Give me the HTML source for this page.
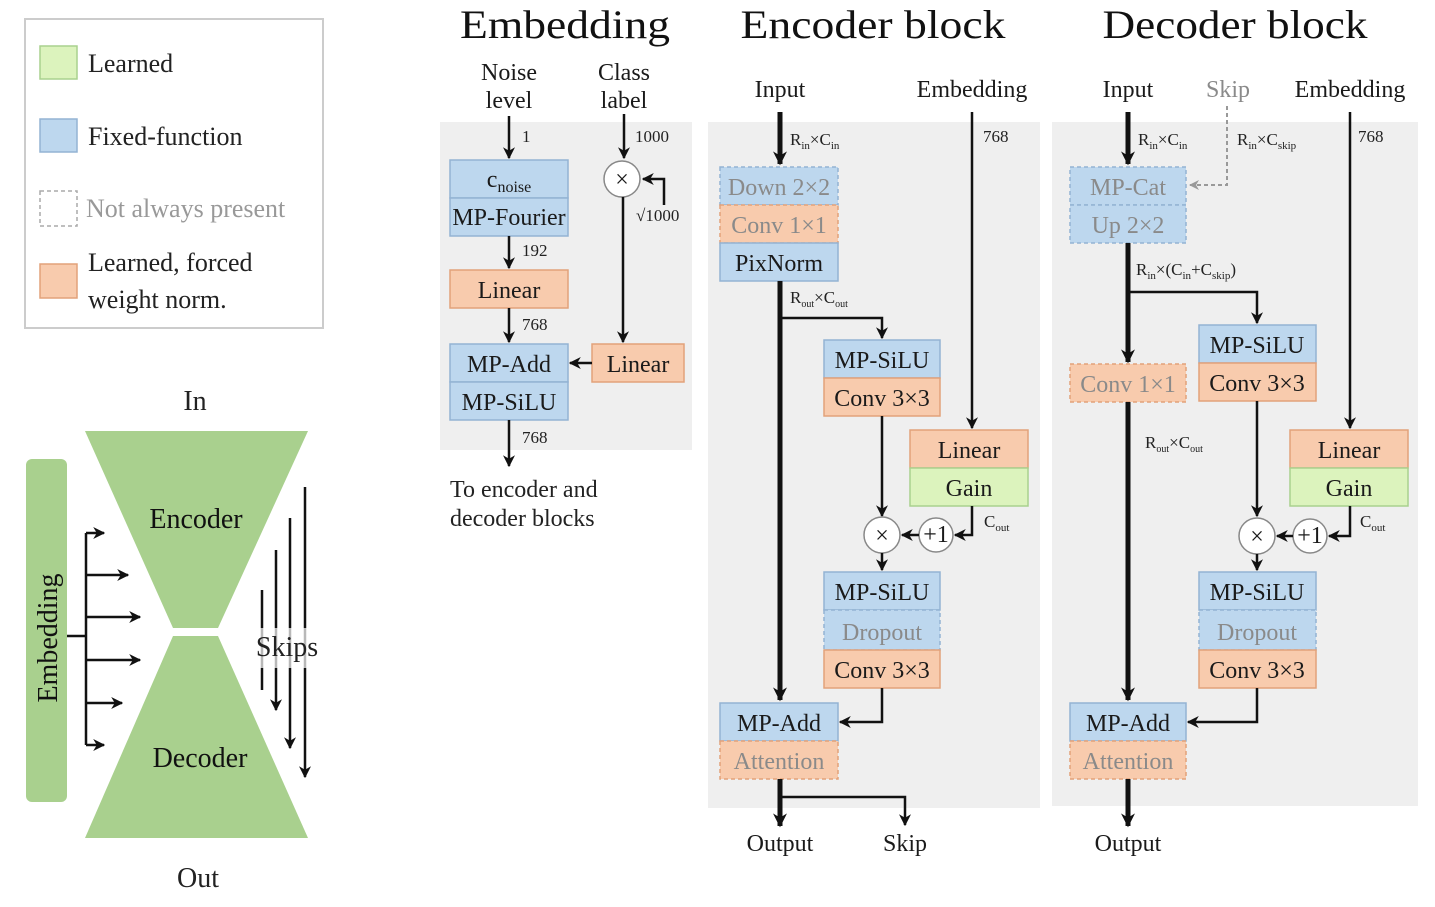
<!DOCTYPE html>
<html><head><meta charset="utf-8"><style>
html,body{margin:0;padding:0;background:#fff;}
svg{display:block;font-family:"Liberation Serif",serif;}
</style></head><body>
<svg width="1435" height="907" viewBox="0 0 1435 907" xmlns="http://www.w3.org/2000/svg">
<defs>
<marker id="a" viewBox="0 0 10 10" refX="9" refY="5" markerWidth="5" markerHeight="5" orient="auto-start-reverse" markerUnits="userSpaceOnUse"><path d="M0,0 L10,5 L0,10 L3,5 z" fill="#111"/></marker>
<marker id="ab" viewBox="0 0 10 10" refX="9" refY="5" markerWidth="14" markerHeight="14" orient="auto" markerUnits="userSpaceOnUse"><path d="M0,0 L10,5 L0,10 L3,5 z" fill="#111"/></marker>
<marker id="am" viewBox="0 0 10 10" refX="9" refY="5" markerWidth="12" markerHeight="12" orient="auto" markerUnits="userSpaceOnUse"><path d="M0,0 L10,5 L0,10 L3,5 z" fill="#111"/></marker>
<marker id="ag" viewBox="0 0 10 10" refX="9" refY="5" markerWidth="10" markerHeight="10" orient="auto" markerUnits="userSpaceOnUse"><path d="M0,0 L10,5 L0,10 L3,5 z" fill="#999"/></marker>
</defs>
<style>
.b{fill:#bdd7ee;stroke:#93b3d3;stroke-width:1.5}
.o{fill:#f8cbad;stroke:#e2a27a;stroke-width:1.5}
.g{fill:#dcf3bd;stroke:#a9d18e;stroke-width:1.5}
.d{stroke-dasharray:4,3}
.t{font-size:24px;text-anchor:middle;fill:#1a1a1a}
.tg{font-size:24px;text-anchor:middle;fill:#8a8a8a}
.s{font-size:17px;fill:#222}
.l{stroke:#111;stroke-width:2.5;fill:none}
.L{stroke:#111;stroke-width:5;fill:none}
</style>

<!-- Legend -->
<rect x="25" y="19" width="298" height="309" fill="#fff" stroke="#ccc" stroke-width="2"/>
<rect x="40" y="46" width="37" height="33" class="g"/>
<text x="88" y="72" font-size="26" fill="#222">Learned</text>
<rect x="40" y="119" width="37" height="33" class="b"/>
<text x="88" y="145" font-size="26" fill="#222">Fixed-function</text>
<rect x="40" y="191" width="37" height="35" fill="#fff" stroke="#aaa" stroke-width="1.5" class="d"/>
<text x="86" y="217" font-size="26" fill="#999">Not always present</text>
<rect x="40" y="264" width="37" height="34" class="o"/>
<text x="88" y="271" font-size="26" fill="#222">Learned, forced</text>
<text x="88" y="308" font-size="26" fill="#222">weight norm.</text>

<!-- Hourglass -->
<text x="195" y="410" font-size="28" text-anchor="middle" fill="#222">In</text>
<text x="198" y="887" font-size="28" text-anchor="middle" fill="#222">Out</text>
<polygon points="85,431 308,431 218,628 173,628" fill="#a9d08e"/>
<polygon points="173,636 218,636 308,838 85,838" fill="#a9d08e"/>
<text x="196" y="528" font-size="28" text-anchor="middle" fill="#111">Encoder</text>
<text x="200" y="767" font-size="28" text-anchor="middle" fill="#111">Decoder</text>
<rect x="26" y="459" width="41" height="343" rx="6" fill="#a9d08e"/>
<text transform="translate(57,638) rotate(-90)" font-size="28" text-anchor="middle" fill="#111">Embedding</text>
<g class="l" stroke-width="2.5">
<path d="M67,636 H86"/>
<path d="M86,533 V745"/>
<path d="M86,533 H104" marker-end="url(#am)"/>
<path d="M86,575 H128" marker-end="url(#am)"/>
<path d="M86,617 H140" marker-end="url(#am)"/>
<path d="M86,660 H140" marker-end="url(#am)"/>
<path d="M86,703 H122" marker-end="url(#am)"/>
<path d="M86,745 H104" marker-end="url(#am)"/>
<path d="M262,590 V690"/>
<path d="M276,550 V710" marker-end="url(#am)"/>
<path d="M290,518 V748" marker-end="url(#am)"/>
<path d="M305,487 V777" marker-end="url(#am)"/>
</g>
<rect x="250" y="628" width="72" height="40" fill="#fff" opacity="0.7"/>
<text x="287" y="656" font-size="28" text-anchor="middle" fill="#222">Skips</text>

<!-- Titles -->
<text x="565" y="38" font-size="40" text-anchor="middle" fill="#111" textLength="210" lengthAdjust="spacingAndGlyphs">Embedding</text>
<text x="873" y="38" font-size="40" text-anchor="middle" fill="#111" textLength="265" lengthAdjust="spacingAndGlyphs">Encoder block</text>
<text x="1235" y="38" font-size="40" text-anchor="middle" fill="#111" textLength="265" lengthAdjust="spacingAndGlyphs">Decoder block</text>

<!-- Embedding panel -->
<rect x="440" y="122" width="252" height="328" fill="#efefef"/>
<text x="509" y="80" class="t" font-size="23">Noise</text>
<text x="509" y="108" class="t" font-size="23">level</text>
<text x="624" y="80" class="t" font-size="23">Class</text>
<text x="624" y="108" class="t" font-size="23">label</text>
<path class="l" d="M509,116 V158" marker-end="url(#am)"/>
<text x="522" y="142" class="s">1</text>
<rect x="450" y="160" width="118" height="38" class="b"/>
<rect x="450" y="198" width="118" height="38" class="b"/>
<text x="509" y="187" class="t">c<tspan font-size="16" dy="5">noise</tspan></text>
<text x="509" y="225" class="t" font-size="21">MP-Fourier</text>
<path class="l" d="M509,236 V268" marker-end="url(#am)"/>
<text x="522" y="256" class="s">192</text>
<rect x="450" y="270" width="118" height="38" class="o"/>
<text x="509" y="298" class="t">Linear</text>
<path class="l" d="M509,308 V342" marker-end="url(#am)"/>
<text x="522" y="330" class="s">768</text>
<rect x="450" y="344" width="118" height="38" class="b"/>
<rect x="450" y="382" width="118" height="38" class="b"/>
<text x="509" y="372" class="t">MP-Add</text>
<text x="509" y="410" class="t">MP-SiLU</text>
<path class="l" d="M509,420 V466" marker-end="url(#am)"/>
<text x="522" y="443" class="s">768</text>
<text x="450" y="497" font-size="24" fill="#222">To encoder and</text>
<text x="450" y="526" font-size="24" fill="#222">decoder blocks</text>
<path class="l" d="M624,114 V158" marker-end="url(#am)"/>
<text x="635" y="142" class="s">1000</text>
<circle cx="622" cy="179" r="18" fill="#fff" stroke="#888" stroke-width="1.5"/>
<text x="622" y="187" class="t">×</text>
<path class="l" d="M664,205 V179 H643" marker-end="url(#am)"/>
<text x="636" y="221" class="s" font-size="15">√1000</text>
<path class="l" d="M623,197 V342" marker-end="url(#am)"/>
<rect x="592" y="344" width="92" height="38" class="o"/>
<text x="638" y="372" class="t">Linear</text>
<path class="l" d="M592,363 H570" marker-end="url(#am)"/>

<!-- Encoder panel -->
<rect x="708" y="122" width="332" height="686" fill="#efefef"/>
<text x="780" y="97" class="t" font-size="23">Input</text>
<text x="972" y="97" class="t" font-size="23">Embedding</text>
<path class="L" d="M780,112 V164" marker-end="url(#ab)"/>
<text x="790" y="145" class="s">R<tspan font-size="11" dy="4">in</tspan><tspan dy="-4">×C</tspan><tspan font-size="11" dy="4">in</tspan></text>
<rect x="720" y="167" width="118" height="38" class="b d"/>
<rect x="720" y="205" width="118" height="38" class="o d"/>
<rect x="720" y="243" width="118" height="38" class="b"/>
<text x="779" y="195" class="tg">Down 2×2</text>
<text x="779" y="233" class="tg">Conv 1×1</text>
<text x="779" y="271" class="t">PixNorm</text>
<path class="L" d="M780,281 V700" marker-end="url(#ab)"/>
<text x="790" y="303" class="s" font-size="15">R<tspan font-size="10" dy="4">out</tspan><tspan dy="-4">×C</tspan><tspan font-size="10" dy="4">out</tspan></text>
<path class="l" d="M780,318 H882 V338" marker-end="url(#am)"/>
<rect x="824" y="340" width="116" height="38" class="b"/>
<rect x="824" y="378" width="116" height="38" class="o"/>
<text x="882" y="368" class="t">MP-SiLU</text>
<text x="882" y="406" class="t">Conv 3×3</text>
<path class="l" d="M882,416 V516" marker-end="url(#am)"/>
<path class="l" d="M972,112 V428" marker-end="url(#am)"/>
<text x="983" y="142" class="s">768</text>
<rect x="910" y="430" width="118" height="38" class="o"/>
<rect x="910" y="468" width="118" height="38" class="g"/>
<text x="969" y="458" class="t">Linear</text>
<text x="969" y="496" class="t">Gain</text>
<path class="l" d="M972,506 V535 H955" marker-end="url(#am)"/>
<text x="984" y="527" class="s">C<tspan font-size="11" dy="4">out</tspan></text>
<circle cx="936" cy="535" r="17" fill="#fff" stroke="#888" stroke-width="1.5"/>
<text x="936" y="542" class="t" font-size="19">+1</text>
<path class="l" d="M919,535 H902" marker-end="url(#am)"/>
<circle cx="882" cy="535" r="18" fill="#fff" stroke="#888" stroke-width="1.5"/>
<text x="882" y="543" class="t">×</text>
<path class="l" d="M882,553 V570" marker-end="url(#am)"/>
<rect x="824" y="572" width="116" height="38" class="b"/>
<rect x="824" y="610" width="116" height="40" class="b d"/>
<rect x="824" y="650" width="116" height="38" class="o"/>
<text x="882" y="600" class="t">MP-SiLU</text>
<text x="882" y="640" class="tg">Dropout</text>
<text x="882" y="678" class="t">Conv 3×3</text>
<path class="l" d="M882,688 V722 H840" marker-end="url(#am)"/>
<rect x="720" y="703" width="118" height="38" class="b"/>
<rect x="720" y="741" width="118" height="38" class="o d"/>
<text x="779" y="731" class="t">MP-Add</text>
<text x="779" y="769" class="tg">Attention</text>
<path class="L" d="M780,779 V826" marker-end="url(#ab)"/>
<path class="l" d="M780,797 H905 V825" marker-end="url(#am)"/>
<text x="780" y="851" class="t" font-size="23">Output</text>
<text x="905" y="851" class="t" font-size="23">Skip</text>

<!-- Decoder panel -->
<rect x="1052" y="122" width="366" height="684" fill="#efefef"/>
<text x="1128" y="97" class="t" font-size="23">Input</text>
<text x="1228" y="97" class="tg" font-size="23" fill="#aaa">Skip</text>
<text x="1350" y="97" class="t" font-size="23">Embedding</text>
<path class="L" d="M1128,112 V164" marker-end="url(#ab)"/>
<text x="1138" y="145" class="s">R<tspan font-size="11" dy="4">in</tspan><tspan dy="-4">×C</tspan><tspan font-size="11" dy="4">in</tspan></text>
<text x="1237" y="145" class="s">R<tspan font-size="11" dy="4">in</tspan><tspan dy="-4">×C</tspan><tspan font-size="11" dy="4">skip</tspan></text>
<path d="M1227,106 V185 H1190" stroke="#999" stroke-width="2" fill="none" stroke-dasharray="4,3" marker-end="url(#ag)"/>
<rect x="1070" y="167" width="116" height="38" class="b d"/>
<rect x="1070" y="205" width="116" height="38" class="b d"/>
<text x="1128" y="195" class="tg">MP-Cat</text>
<text x="1128" y="233" class="tg">Up 2×2</text>
<path class="L" d="M1128,243 V362" marker-end="url(#ab)"/>
<text x="1136" y="275" class="s">R<tspan font-size="11" dy="4">in</tspan><tspan dy="-4">×(C</tspan><tspan font-size="11" dy="4">in</tspan><tspan dy="-4">+C</tspan><tspan font-size="11" dy="4">skip</tspan><tspan dy="-4">)</tspan></text>
<path class="l" d="M1128,292 H1257 V323" marker-end="url(#am)"/>
<rect x="1070" y="364" width="116" height="38" class="o d"/>
<text x="1128" y="392" class="tg">Conv 1×1</text>
<path class="L" d="M1128,402 V700" marker-end="url(#ab)"/>
<text x="1145" y="448" class="s" font-size="15">R<tspan font-size="10" dy="4">out</tspan><tspan dy="-4">×C</tspan><tspan font-size="10" dy="4">out</tspan></text>
<rect x="1199" y="325" width="117" height="38" class="b"/>
<rect x="1199" y="363" width="117" height="38" class="o"/>
<text x="1257" y="353" class="t">MP-SiLU</text>
<text x="1257" y="391" class="t">Conv 3×3</text>
<path class="l" d="M1257,401 V516" marker-end="url(#am)"/>
<path class="l" d="M1350,112 V428" marker-end="url(#am)"/>
<text x="1358" y="142" class="s">768</text>
<rect x="1290" y="430" width="118" height="38" class="o"/>
<rect x="1290" y="468" width="118" height="38" class="g"/>
<text x="1349" y="458" class="t">Linear</text>
<text x="1349" y="496" class="t">Gain</text>
<path class="l" d="M1350,506 V536 H1329" marker-end="url(#am)"/>
<text x="1360" y="527" class="s">C<tspan font-size="11" dy="4">out</tspan></text>
<circle cx="1310" cy="536" r="17" fill="#fff" stroke="#888" stroke-width="1.5"/>
<text x="1310" y="543" class="t" font-size="19">+1</text>
<path class="l" d="M1293,536 H1277" marker-end="url(#am)"/>
<circle cx="1257" cy="536" r="18" fill="#fff" stroke="#888" stroke-width="1.5"/>
<text x="1257" y="544" class="t">×</text>
<path class="l" d="M1257,554 V570" marker-end="url(#am)"/>
<rect x="1199" y="572" width="117" height="38" class="b"/>
<rect x="1199" y="610" width="117" height="40" class="b d"/>
<rect x="1199" y="650" width="117" height="38" class="o"/>
<text x="1257" y="600" class="t">MP-SiLU</text>
<text x="1257" y="640" class="tg">Dropout</text>
<text x="1257" y="678" class="t">Conv 3×3</text>
<path class="l" d="M1257,688 V722 H1188" marker-end="url(#am)"/>
<rect x="1070" y="703" width="116" height="38" class="b"/>
<rect x="1070" y="741" width="116" height="38" class="o d"/>
<text x="1128" y="731" class="t">MP-Add</text>
<text x="1128" y="769" class="tg">Attention</text>
<path class="L" d="M1128,779 V826" marker-end="url(#ab)"/>
<text x="1128" y="851" class="t" font-size="23">Output</text>
</svg>
</body></html>
